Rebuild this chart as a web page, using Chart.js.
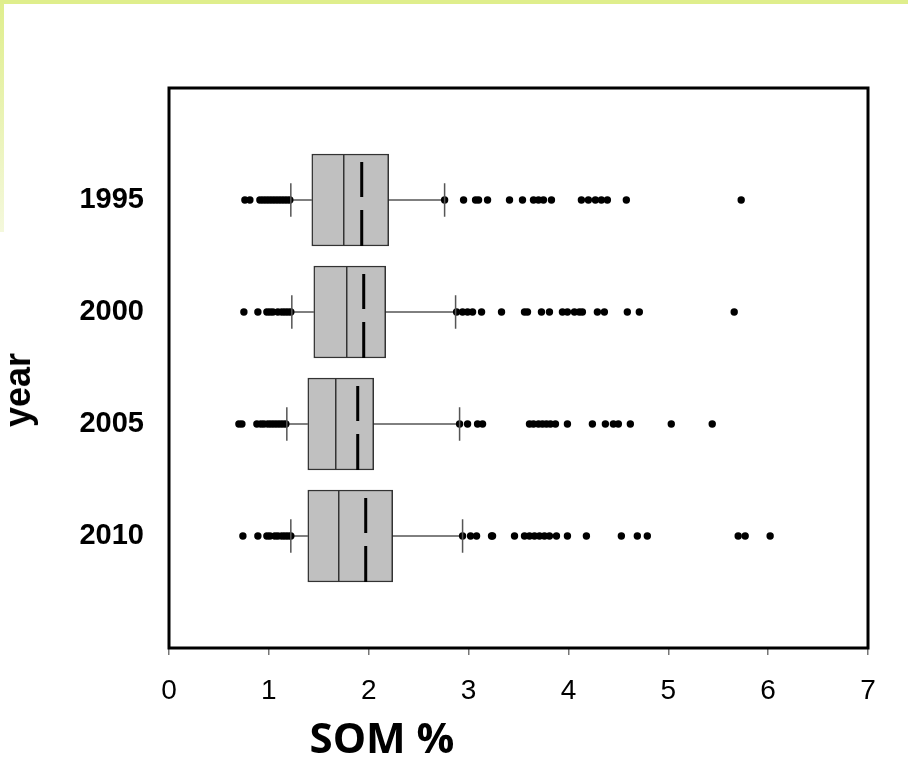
<!DOCTYPE html>
<html>
<head>
<meta charset="utf-8">
<title>SOM % by year</title>
<script src="https://cdn.jsdelivr.net/npm/chart.js@4.4.1/dist/chart.umd.min.js"></script>
<style>
    body { margin: 0; background: #ffffff; }
    .wrap { position: relative; width: 908px; height: 761px; overflow: hidden; }
    .frame-top { position: absolute; left: 0; top: 0; width: 908px; height: 4px; background: #dfee8c; }
    .frame-left { position: absolute; left: 0; top: 0; width: 4px; height: 232px; background: linear-gradient(#dfee8c, #f4f8dc); }
    .x-title {
        position: absolute; left: 282px; top: 716px; width: 200px;
        text-align: center; font: bold 42px "Open Sans", sans-serif; line-height: 42px; color: #000;
    }
    .y-title {
        position: absolute; left: 18px; top: 390px;
        transform: translate(-50%, -50%) rotate(-90deg);
        font: bold 36px "Liberation Sans", Arial, sans-serif; line-height: 36px; color: #000; white-space: nowrap;
    }
    canvas { position: absolute; left: 0; top: 0; }
</style>
</head>
<body>
<div class="wrap">
    <canvas id="chart" width="908" height="761"></canvas>
    <div class="frame-top"></div>
    <div class="frame-left"></div>
    <div class="x-title">SOM %</div>
    <div class="y-title">year</div>
</div>
<script>
// Годы (пустые метки сверху и снизу дают поля как на исходнике)
const years = ["1995", "2000", "2005", "2010"];
const yLabels = ["", ...years, ""];
const xTicks = [0, 1, 2, 3, 4, 5, 6, 7];

// Статистика ящиков, SOM %
const q1 = [1.43, 1.45, 1.39, 1.39];
const median = [1.75, 1.78, 1.67, 1.70];
const q3 = [2.20, 2.17, 2.05, 2.24];
const mean = [1.93, 1.95, 1.89, 1.97];
const whiskerLow = [1.22, 1.23, 1.18, 1.22];
const whiskerHigh = [2.76, 2.87, 2.91, 2.94];

// Выбросы по годам
const out1995 = [0.76, 0.81, 0.91, 0.94, 0.97, 1.00, 1.03, 1.06, 1.09, 1.12, 1.15, 1.18, 1.21,
    2.76, 2.95, 3.07, 3.10, 3.19, 3.41, 3.54, 3.65, 3.70, 3.75, 3.83, 4.13, 4.20, 4.27, 4.33, 4.39, 4.58, 5.73];
const out2000 = [0.75, 0.89, 0.98, 1.01, 1.04, 1.09, 1.13, 1.16, 1.19, 1.22,
    2.88, 2.94, 2.99, 3.04, 3.13, 3.33, 3.56, 3.59, 3.73, 3.81, 3.94, 3.99, 4.06, 4.11, 4.14, 4.29, 4.36, 4.59, 4.71, 5.66];
const out2005 = [0.70, 0.73, 0.88, 0.92, 0.95, 0.99, 1.02, 1.05, 1.08, 1.11, 1.14, 1.17,
    2.91, 2.99, 3.09, 3.14, 3.61, 3.65, 3.70, 3.74, 3.78, 3.82, 3.87, 3.99, 4.24, 4.37, 4.45, 4.50, 4.62, 5.03, 5.44];
const out2010 = [0.74, 0.89, 0.98, 1.01, 1.06, 1.09, 1.13, 1.16, 1.19, 1.22,
    2.94, 3.02, 3.08, 3.23, 3.24, 3.46, 3.56, 3.61, 3.66, 3.71, 3.76, 3.81, 3.88, 3.99, 4.18, 4.53, 4.69, 4.79, 5.70, 5.77, 6.02];
const outliers = [out1995, out2000, out2005, out2010];

const boxHalf = 0.41;   // половина высоты ящика в долях шага категории
const capHalf = 0.15;   // половина высоты засечки уса

// Ящики как плавающие столбцы
const boxData = [null, ...years.map((y, i) => [q1[i], q3[i]]), null];

// Точки выбросов
const outlierPoints = [];
outliers.forEach((list, i) => {
    list.forEach((v) => outlierPoints.push({ x: v, y: years[i] }));
});

// Усы, медиана, среднее и рамка рисуются поверх через шкалы
const boxExtras = {
    id: "boxExtras",
    afterDatasetsDraw(chart) {
        const ctx = chart.ctx;
        const xs = chart.scales.x;
        const ys = chart.scales.y;
        const step = ys.getPixelForValue(1) - ys.getPixelForValue(0);
        ctx.save();
        years.forEach((year, i) => {
            const cy = ys.getPixelForValue(i + 1);
            const top = cy - boxHalf * step;
            const bottom = cy + boxHalf * step;

            // усы
            ctx.strokeStyle = "#000";
            ctx.lineWidth = 1;
            ctx.beginPath();
            ctx.moveTo(xs.getPixelForValue(whiskerLow[i]), cy);
            ctx.lineTo(xs.getPixelForValue(q1[i]), cy);
            ctx.moveTo(xs.getPixelForValue(q3[i]), cy);
            ctx.lineTo(xs.getPixelForValue(whiskerHigh[i]), cy);
            ctx.stroke();

            // засечки
            ctx.strokeStyle = "#555";
            ctx.lineWidth = 1.5;
            ctx.beginPath();
            [whiskerLow[i], whiskerHigh[i]].forEach((v) => {
                const px = xs.getPixelForValue(v);
                ctx.moveTo(px, cy - capHalf * step);
                ctx.lineTo(px, cy + capHalf * step);
            });
            ctx.stroke();

            // медиана
            ctx.strokeStyle = "#333";
            ctx.lineWidth = 1.5;
            const mx = xs.getPixelForValue(median[i]);
            ctx.beginPath();
            ctx.moveTo(mx, top);
            ctx.lineTo(mx, bottom);
            ctx.stroke();

            // среднее - толстая линия с разрывом
            ctx.strokeStyle = "#000";
            ctx.lineWidth = 3;
            const ax = xs.getPixelForValue(mean[i]);
            ctx.beginPath();
            ctx.moveTo(ax, top + 8);
            ctx.lineTo(ax, cy - 3);
            ctx.moveTo(ax, cy + 10);
            ctx.lineTo(ax, bottom);
            ctx.stroke();
        });

        // рамка области графика
        const a = chart.chartArea;
        ctx.strokeStyle = "#000";
        ctx.lineWidth = 3;
        ctx.strokeRect(a.left, a.top, a.right - a.left, a.bottom - a.top);
        ctx.restore();
    }
};

new Chart(document.getElementById("chart"), {
    type: "bar",
    data: {
        labels: yLabels,
        datasets: [
            {
                type: "scatter",
                data: outlierPoints,
                backgroundColor: "#000",
                borderWidth: 0,
                pointRadius: 3.7,
                order: 1
            },
            {
                type: "bar",
                indexAxis: "y",
                data: boxData,
                backgroundColor: "#c0c0c0",
                borderColor: "#333",
                borderWidth: 1.5,
                borderSkipped: false,
                barThickness: 92,
                order: 2
            }
        ]
    },
    options: {
        responsive: false,
        animation: false,
        layout: { padding: { top: 88, right: 40, left: 0, bottom: 0 } },
        plugins: {
            legend: { display: false },
            tooltip: { enabled: false }
        },
        scales: {
            x: {
                type: "linear",
                position: "bottom",
                min: 0,
                max: 7,
                offset: false,
                afterBuildTicks: (scale) => { scale.ticks = xTicks.map((v) => ({ value: v })); },
                afterFit: (scale) => { scale.height = 113; },
                border: { display: false },
                grid: { offset: false, drawOnChartArea: false, drawTicks: true, tickLength: 7, tickColor: "#777", lineWidth: 1.5 },
                ticks: {
                    color: "#000",
                    padding: 19,
                    font: { family: "'Liberation Sans', Arial, sans-serif", size: 28 }
                }
            },
            y: {
                type: "category",
                position: "left",
                labels: yLabels,
                offset: false,
                afterFit: (scale) => { scale.width = 169; },
                border: { display: false },
                grid: { display: false, drawTicks: false },
                ticks: {
                    color: "#000",
                    padding: 25,
                    autoSkip: false,
                    font: { family: "'Liberation Sans', Arial, sans-serif", size: 29, weight: "bold" }
                }
            }
        }
    },
    plugins: [boxExtras]
});
</script>
</body>
</html>
